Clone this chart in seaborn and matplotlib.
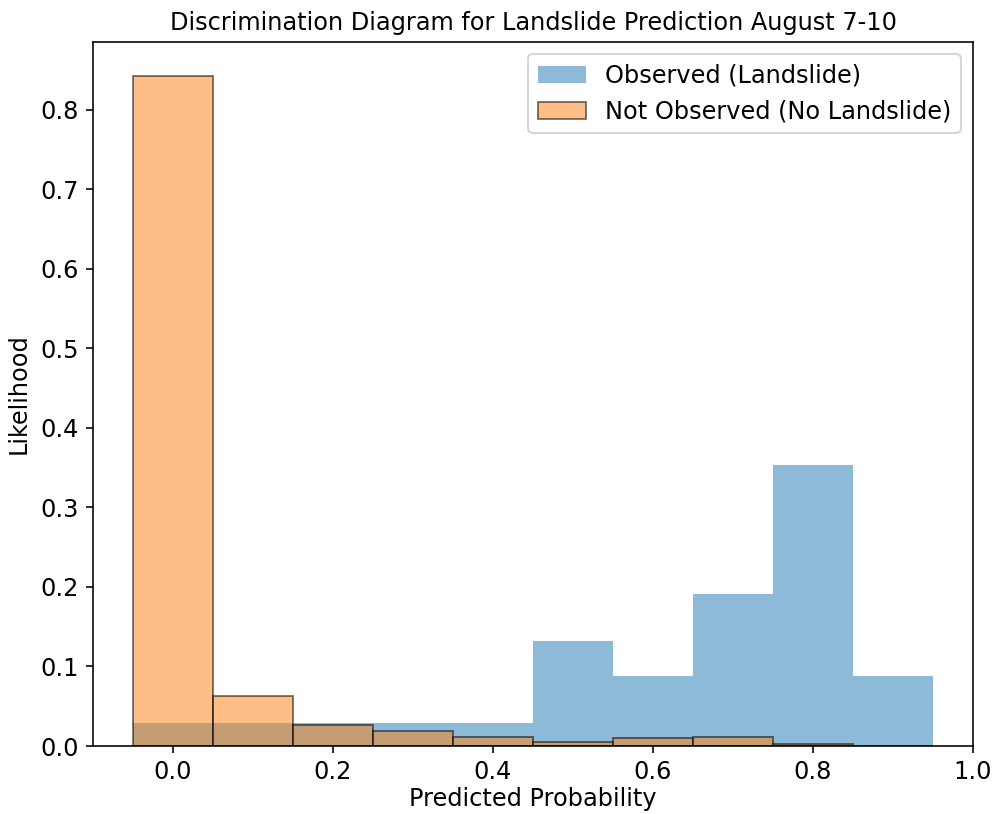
import matplotlib
matplotlib.use("Agg")
import matplotlib.pyplot as plt
import seaborn as sns
import pandas as pd

# Forecast probability bins (centres) and the likelihood in each bin
bin_centers = [0.0, 0.1, 0.2, 0.3, 0.4, 0.5, 0.6, 0.7, 0.8, 0.9]
observed_likelihood = [0.029, 0.029, 0.029, 0.029, 0.029, 0.132, 0.088, 0.191, 0.353, 0.088]
not_observed_likelihood = [0.843, 0.063, 0.026, 0.019, 0.011, 0.005, 0.010, 0.011, 0.002, 0.0]

bin_edges = [round(c - 0.05, 2) for c in bin_centers] + [round(bin_centers[-1] + 0.05, 2)]

obs_df = pd.DataFrame({"prob": bin_centers, "w": observed_likelihood})
nobs_df = pd.DataFrame({"prob": bin_centers, "w": not_observed_likelihood})

plt.rcParams["font.family"] = ["DejaVu Sans"]
plt.rcParams["font.size"] = 12

fig = plt.figure(figsize=(994 / 144, 814 / 144), dpi=144)
ax = fig.add_axes([93 / 994, 1 - 746 / 814, 880 / 994, 704 / 814])

sns.histplot(data=obs_df, x="prob", weights="w", bins=bin_edges,
             color="C0", alpha=0.5, edgecolor="none", linewidth=0,
             label="Observed (Landslide)", ax=ax)
sns.histplot(data=nobs_df, x="prob", weights="w", bins=bin_edges,
             color="C1", alpha=0.5, edgecolor=(0, 0, 0, 0.5), linewidth=1,
             label="Not Observed (No Landslide)", ax=ax)

ax.set_xlim(-0.1, 1.0)
ax.set_ylim(0, max(not_observed_likelihood) * 1.05)
ax.set_title("Discrimination Diagram for Landslide Prediction August 7-10", fontsize=12)
ax.set_xlabel("Predicted Probability", labelpad=1.5)
ax.set_ylabel("Likelihood", labelpad=5)
ax.legend(loc="upper right", fontsize=12)

fig.savefig("out.png", dpi=144)
